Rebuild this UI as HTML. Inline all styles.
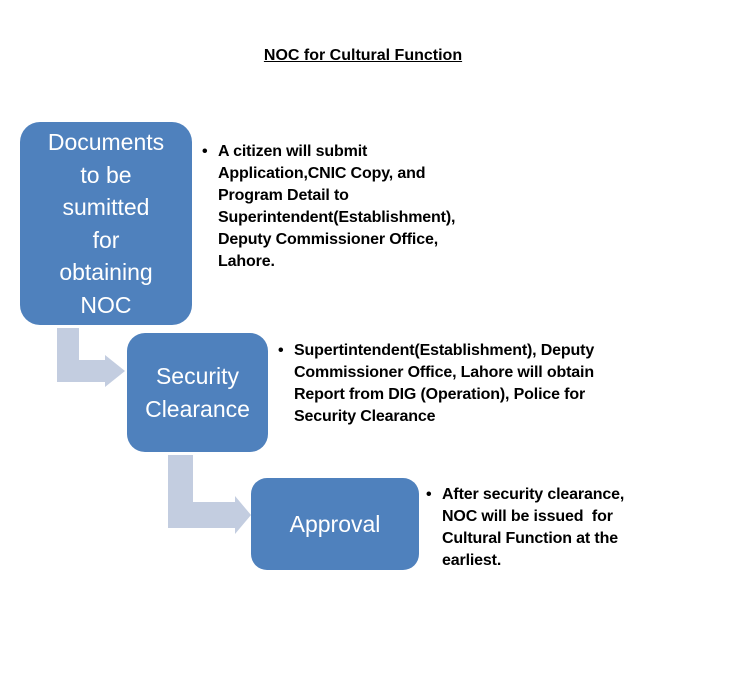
<!DOCTYPE html>
<html><head><style>
body{margin:0;width:754px;height:682px;background:#fff;position:relative;font-family:"Liberation Sans",sans-serif;overflow:hidden}
.t{position:absolute;left:0;width:726px;top:47px;text-align:center;font-weight:bold;font-size:16px;text-decoration:underline}
.b{position:absolute;background:#4f81bd;border-radius:20px;color:#fff;display:flex;align-items:center;justify-content:center;text-align:center;font-size:23px;line-height:32.5px}
.a{position:absolute;background:#c3cde0}
.h{position:absolute;width:0;height:0;border-top:solid transparent;border-bottom:solid transparent;border-left:solid #c3cde0}
.x{position:absolute;font-weight:bold;font-size:16px;line-height:22px;padding-left:16px;letter-spacing:-0.15px}
.x:before{content:"•";position:absolute;left:0}
</style></head><body>
<div class="t">NOC for Cultural Function</div>
<div class="a" style="left:57px;top:328px;width:22px;height:54px"></div>
<div class="a" style="left:57px;top:360px;width:49px;height:22px"></div>
<div class="h" style="left:105px;top:355px;border-top-width:16px;border-bottom-width:16px;border-left-width:20px"></div>
<div class="a" style="left:168px;top:455px;width:25px;height:73px"></div>
<div class="a" style="left:168px;top:502px;width:68px;height:26px"></div>
<div class="h" style="left:235px;top:496px;border-top-width:19px;border-bottom-width:19px;border-left-width:16px"></div>
<div class="b" style="left:20px;top:122px;width:172px;height:203px">Documents<br>to be<br>sumitted<br>for<br>obtaining<br>NOC</div>
<div class="b" style="left:127px;top:333px;width:141px;height:119px;border-radius:18px">Security<br>Clearance</div>
<div class="b" style="left:251px;top:478px;width:168px;height:92px;border-radius:16px">Approval</div>
<div class="x" style="left:202px;top:141px">A citizen will submit<br>Application,CNIC Copy, and<br>Program Detail to<br>Superintendent(Establishment),<br>Deputy Commissioner Office,<br>Lahore.</div>
<div class="x" style="left:278px;top:340px">Supertintendent(Establishment), Deputy<br>Commissioner Office, Lahore will obtain<br>Report from DIG (Operation), Police for<br>Security Clearance</div>
<div class="x" style="left:426px;top:484px">After security clearance,<br>NOC will be issued&nbsp; for<br>Cultural Function at the<br>earliest.</div>
</body></html>
